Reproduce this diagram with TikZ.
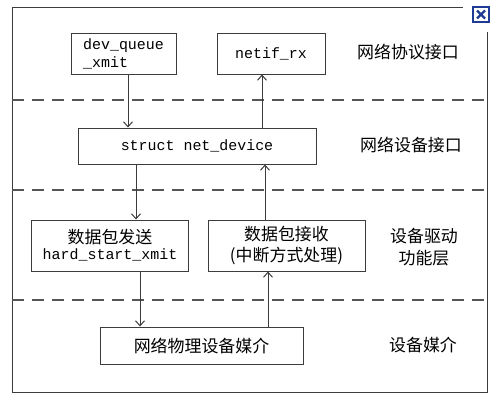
\documentclass[tikz,border=0pt]{standalone}
\usepackage{fontspec}
\setmonofont{Liberation Mono}
\newfontfamily\cjk{Noto Sans CJK SC}
\usepackage{tikz}
\usetikzlibrary{calc,arrows.meta}

\definecolor{framegray}{HTML}{3C3C3C}
\definecolor{dashgray}{HTML}{555555}
\definecolor{iconblue}{HTML}{1E3C96}

\tikzset{
  layerbox/.style={draw=framegray, line width=1bp, inner sep=0pt, align=center},
  codetext/.style={font=\ttfamily\fontsize{15}{18}\selectfont},
  cntext/.style={font=\cjk\fontsize{17}{22}\selectfont},
  flow/.style={-{Straight Barb[length=5bp, width=9bp, line width=1bp]}, draw=framegray, line width=1bp},
  layersep/.style={draw=dashgray, line width=2bp, dash pattern=on 12bp off 8bp}
}

\begin{document}
\begin{tikzpicture}[x=1bp, y=-1bp]
\useasboundingbox (0,0) rectangle (501,400);
% outer frame and close icon
\draw[framegray, line width=1bp] (463,7) -- (12,7) -- (12,392) -- (487,392) -- (487,32);
\draw[iconblue, line width=1.2bp, fill=white] (473,7) rectangle (489,22);
\draw[iconblue, line width=2.2bp] (477,10.5) -- (485,18.5) (485,10.5) -- (477,18.5);
% layer separators
\draw[layersep] (12,100) -- (487,100);
\draw[layersep] (12,190) -- (487,190);
\draw[layersep] (12,300) -- (487,300);
% boxes
\node[layerbox, codetext, minimum width=105bp, minimum height=41bp, align=left] (dq) at (123.5,53.5) {dev\_queue\\\_xmit};
\node[layerbox, codetext, minimum width=108bp, minimum height=41bp] (nr) at (271,53.5) {netif\_rx};
\node[layerbox, codetext, minimum width=238bp, minimum height=36bp] (nd) at (197,146) {struct net\_device};
\node[layerbox, minimum width=156bp, minimum height=51bp] (tx) at (110,245.5)
  {{\cjk\fontsize{17}{22}\selectfont 数据包发送}\\[3bp]{\ttfamily\fontsize{15}{18}\selectfont hard\_start\_xmit}};
\node[layerbox, cntext, minimum width=157bp, minimum height=51bp] (rx) at (286.5,245.5) {数据包接收\\(中断方式处理)};
\node[layerbox, cntext, minimum width=203bp, minimum height=37bp] (phy) at (201.5,345.5) {网络物理设备媒介};
% layer names
\node[cntext] (l1) at (408,52) {网络协议接口};
\node[cntext] (l2) at (411,145) {网络设备接口};
\node[cntext, align=center] (l3) at (424,247) {设备驱动\\功能层};
\node[cntext] (l4) at (423,345) {设备媒介};
% data flow
\draw[flow] ([xshift=4.5bp]dq.south) -- ([xshift=4.5bp]dq.south |- nd.north);
\draw[flow] ([xshift=-9bp]nr.south |- nd.north) -- ([xshift=-9bp]nr.south);
\draw[flow] ([xshift=26bp]tx.north |- nd.south) -- ([xshift=26bp]tx.north);
\draw[flow] ([xshift=-21.5bp]rx.north) -- ([xshift=-21.5bp]rx.north |- nd.south);
\draw[flow] ([xshift=30bp]tx.south) -- ([xshift=30bp]tx.south |- phy.north);
\draw[flow] ([xshift=-18.5bp]rx.south |- phy.north) -- ([xshift=-18.5bp]rx.south);
\end{tikzpicture}
\end{document}
